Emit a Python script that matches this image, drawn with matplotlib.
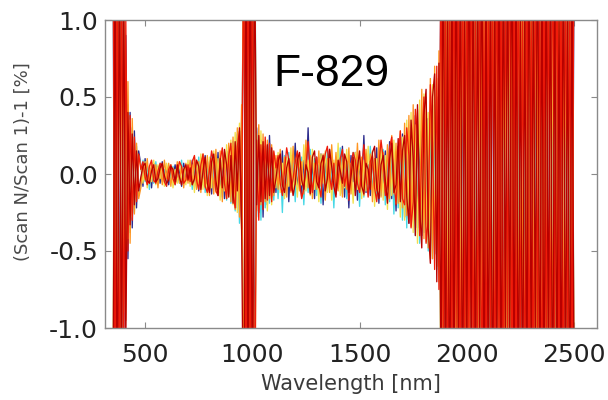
import numpy as np
import matplotlib
matplotlib.use("Agg")
import matplotlib.pyplot as plt

# Wavelength grid (nm), 10 nm step
wavelength = list(range(350, 2501, 10))

# Relative change (Scan N / Scan 1) - 1 in percent, per scan
scan_a = [1.6, -1.9, 2.0, -1.4, 1.3, -1.1, 0.9,
          -0.55, 0.40, -0.35, 0.28, -0.22, 0.15,
          0.06, -0.08, 0.10, -0.05, 0.04, -0.09, 0.07, -0.03, 0.05, -0.06, 0.08, -0.04, 0.03, -0.07, 0.05, -0.02, 0.06, -0.05, 0.04, -0.08, 0.07, -0.03, 0.05,
          -0.06, 0.09, -0.08, 0.05, -0.11, 0.10, -0.07, 0.12, -0.09, 0.08, -0.13, 0.11, -0.10, 0.14, -0.12, 0.09, -0.16, 0.15, -0.13, 0.18, -0.17, 0.20, -0.22, 0.25, -0.30,
          1.8, -2.0, 1.9, -1.7, 2.0, -1.5,
          0.30, -0.25, 0.22, -0.28, 0.18, -0.20, 0.25, -0.15, 0.12,
          -0.12, 0.10, -0.05, 0.15, -0.14, 0.08, -0.18, 0.12, -0.06, 0.20,
          -0.10, 0.05, -0.15, 0.09, -0.08, 0.30, -0.12, 0.07, -0.16, 0.11,
          -0.04, 0.13, -0.20, 0.08, -0.09, 0.16, -0.11, 0.06, -0.13, 0.10,
          -0.07, 0.18, -0.15, 0.09, -0.22, 0.12, -0.05, 0.14, -0.17, 0.08,
          -0.10, 0.25, -0.12, 0.06, -0.14, 0.11, -0.09, 0.17, -0.19, 0.10,
          -0.06, 0.15, -0.13, 0.21, -0.16, 0.12, -0.24, 0.18, -0.11, 0.26,
          -0.28, 0.25, -0.32, 0.30, -0.22, 0.38, -0.35, 0.28, -0.40, 0.42, -0.33, 0.36, -0.48, 0.45, -0.52, 0.50, -0.60,
          1.5, -1.8, 1.2, -2.0, 1.7, -1.3, 1.9, -1.6, 2.0, -1.4,
          1.1, -1.9, 1.8, -1.2, 1.6, -2.0, 1.4, -1.7, 1.9, -1.5,
          2.0, -1.1, 1.3, -1.8, 1.7, -1.6, 1.5, -2.0, 1.2, -1.4,
          1.9, -1.7, 1.6, -1.3, 2.0, -1.9, 1.1, -1.5, 1.8, -1.2,
          1.4, -2.0, 1.7, -1.6, 1.3, -1.8, 1.9, -1.1, 1.5, -1.7,
          2.0, -1.4, 1.2, -1.9, 1.6, -1.3, 1.8, -2.0, 1.1, -1.5,
          1.7, -1.6, 1.4]

scan_b = [-1.7, 1.9, -1.5, 1.8, -1.3, 1.0, -0.7,
          0.45, -0.38, 0.30, -0.25, 0.18, -0.14,
          -0.07, 0.09, -0.05, 0.06, -0.10, 0.04, -0.06, 0.08, -0.04, 0.07, -0.05, 0.03, -0.08, 0.06, -0.03, 0.05, -0.07, 0.04, -0.06, 0.09, -0.05, 0.06, -0.04,
          0.07, -0.10, 0.06, -0.09, 0.11, -0.08, 0.10, -0.12, 0.07, -0.11, 0.13, -0.09, 0.12, -0.14, 0.10, -0.15, 0.13, -0.17, 0.16, -0.19, 0.21, -0.24, 0.26, -0.32, 0.35,
          -1.9, 1.7, -2.0, 1.8, -1.6, 1.9,
          -0.28, 0.24, -0.30, 0.20, -0.22, 0.18, -0.19, 0.15, -0.17,
          0.10, -0.16, 0.08, -0.25, 0.12, -0.09, 0.14, -0.11, 0.07, -0.18,
          0.13, -0.06, 0.11, -0.20, 0.09, -0.12, 0.16, -0.08, 0.10, -0.14,
          0.06, -0.19, 0.12, -0.07, 0.15, -0.10, 0.08, -0.22, 0.11, -0.09,
          0.17, -0.13, 0.07, -0.16, 0.12, -0.08, 0.14, -0.11, 0.09, -0.21,
          0.10, -0.15, 0.13, -0.09, 0.18, -0.12, 0.07, -0.17, 0.11, -0.14,
          0.16, -0.20, 0.09, -0.18, 0.14, -0.26, 0.12, -0.22, 0.19, -0.30,
          0.22, -0.35, 0.28, -0.30, 0.25, -0.40, 0.32, -0.45, 0.30, -0.38, 0.35, -0.50, 0.40, -0.55, 0.38, -0.62, 0.50,
          -1.6, 1.4, -1.9, 1.7, -1.2, 2.0, -1.5, 1.3, -1.8, 1.6,
          -2.0, 1.2, -1.4, 1.9, -1.7, 1.5, -1.1, 1.8, -1.6, 2.0,
          -1.3, 1.7, -1.9, 1.4, -1.5, 1.1, -2.0, 1.6, -1.8, 1.3,
          -1.2, 1.9, -1.4, 1.7, -1.6, 2.0, -1.1, 1.5, -1.9, 1.8,
          -1.7, 1.3, -1.5, 2.0, -1.2, 1.6, -1.8, 1.4, -2.0, 1.1,
          -1.3, 1.9, -1.6, 1.2, -1.7, 1.8, -1.4, 1.5, -1.9, 1.6,
          -1.1, 2.0, -1.5]

scan_c = [1.9, -1.5, 1.7, -2.0, 1.1, -0.9, 0.6,
          -0.42, 0.35, -0.28, 0.22, -0.17, 0.12,
          0.05, -0.06, 0.08, -0.09, 0.04, -0.05, 0.09, -0.07, 0.06, -0.03, 0.05, -0.08, 0.07, -0.04, 0.06, -0.09, 0.03, -0.06, 0.08, -0.05, 0.04, -0.07, 0.09,
          -0.08, 0.06, -0.12, 0.09, -0.07, 0.13, -0.10, 0.08, -0.14, 0.11, -0.09, 0.15, -0.12, 0.10, -0.17, 0.13, -0.11, 0.19, -0.15, 0.22, -0.20, 0.27, -0.25, 0.33, -0.40,
          2.0, -1.6, 1.8, -1.9, 1.5, -2.0,
          0.26, -0.22, 0.28, -0.18, 0.21, -0.24, 0.16, -0.20, 0.14,
          -0.09, 0.14, -0.12, 0.07, -0.16, 0.11, -0.08, 0.17, -0.13, 0.06,
          -0.15, 0.12, -0.07, 0.19, -0.11, 0.09, -0.14, 0.16, -0.10, 0.08,
          -0.18, 0.13, -0.06, 0.15, -0.12, 0.10, -0.17, 0.09, -0.08, 0.20,
          -0.14, 0.11, -0.09, 0.16, -0.13, 0.07, -0.19, 0.14, -0.10, 0.12,
          -0.16, 0.09, -0.11, 0.18, -0.08, 0.15, -0.21, 0.10, -0.13, 0.19,
          -0.17, 0.12, -0.23, 0.16, -0.14, 0.22, -0.19, 0.15, -0.28, 0.24,
          -0.30, 0.35, -0.25, 0.40, -0.38, 0.32, -0.45, 0.48, -0.36, 0.52, -0.44, 0.40, -0.55, 0.58, -0.50, 0.62, -0.70,
          1.3, -1.7, 1.9, -1.4, 1.6, -1.1, 2.0, -1.8, 1.5, -1.2,
          1.7, -2.0, 1.1, -1.6, 1.8, -1.3, 1.4, -1.9, 1.2, -1.5,
          1.6, -1.8, 2.0, -1.1, 1.9, -1.4, 1.3, -1.7, 1.5, -2.0,
          1.2, -1.6, 1.8, -1.9, 1.1, -1.3, 1.7, -1.2, 2.0, -1.8,
          1.5, -1.4, 1.9, -1.1, 1.6, -2.0, 1.3, -1.7, 1.4, -1.6,
          1.8, -1.2, 1.1, -1.5, 2.0, -1.9, 1.7, -1.3, 1.2, -1.8,
          1.5, -1.4, 1.9]

scan_d = [-1.5, 2.0, -1.8, 1.6, -1.4, 1.2, -0.95,
          0.60, -0.45, 0.36, -0.26, 0.20, -0.16,
          -0.09, 0.07, -0.04, 0.10, -0.06, 0.08, -0.05, 0.06, -0.09, 0.05, -0.07, 0.09, -0.03, 0.07, -0.08, 0.04, -0.05, 0.08, -0.06, 0.05, -0.09, 0.07, -0.06,
          0.09, -0.07, 0.11, -0.10, 0.08, -0.12, 0.13, -0.09, 0.12, -0.14, 0.10, -0.13, 0.16, -0.11, 0.15, -0.18, 0.14, -0.16, 0.20, -0.18, 0.24, -0.23, 0.30, -0.28, 0.45,
          -1.8, 2.0, -1.5, 1.9, -2.0, 1.7,
          -0.24, 0.32, -0.20, 0.26, -0.18, 0.22, -0.16, 0.19, -0.14,
          0.12, -0.10, 0.16, -0.08, 0.11, -0.15, 0.09, -0.12, 0.18, -0.07,
          0.14, -0.11, 0.08, -0.13, 0.22, -0.09, 0.12, -0.16, 0.07, -0.10,
          0.15, -0.08, 0.13, -0.17, 0.10, -0.12, 0.19, -0.06, 0.14, -0.11,
          0.09, -0.15, 0.12, -0.10, 0.17, -0.13, 0.08, -0.09, 0.20, -0.12,
          0.11, -0.14, 0.16, -0.07, 0.13, -0.18, 0.10, -0.11, 0.22, -0.15,
          0.14, -0.12, 0.19, -0.16, 0.25, -0.13, 0.20, -0.19, 0.28, -0.22,
          0.33, -0.27, 0.38, -0.34, 0.45, -0.30, 0.42, -0.40, 0.55, -0.42, 0.50, -0.48, 0.62, -0.55, 0.70, -0.60, 0.80,
          -1.9, 1.5, -1.3, 1.8, -1.6, 2.0, -1.2, 1.4, -1.7, 1.1,
          -1.5, 1.9, -2.0, 1.3, -1.1, 1.7, -1.8, 1.6, -1.4, 1.2,
          -1.7, 2.0, -1.3, 1.5, -1.9, 1.8, -1.2, 1.1, -1.6, 1.4,
          -2.0, 1.7, -1.5, 1.3, -1.8, 1.2, -1.4, 1.9, -1.1, 1.6,
          -1.3, 1.8, -1.7, 1.5, -2.0, 1.1, -1.6, 1.4, -1.2, 1.9,
          -1.8, 1.3, -1.5, 2.0, -1.1, 1.7, -1.9, 1.2, -1.4, 1.6,
          -2.0, 1.5, -1.3]

scan_e = [2.0, -1.7, 1.4, -1.9, 1.6, -1.3, 1.0,
          -0.50, 0.38, -0.30, 0.24, -0.18, 0.13,
          0.03, 0.08, -0.02, -0.07, 0.05, 0.09, -0.04, -0.06, 0.02, 0.07, 0.04, -0.05, -0.08, 0.03, 0.06, -0.03, -0.07, 0.01, 0.08, 0.05, -0.06, -0.04, 0.06,
          -0.05, 0.08, 0.12, -0.04, -0.10, 0.06, 0.13, -0.08, -0.12, 0.03, 0.15, 0.07, -0.11, -0.14, 0.09, 0.17, -0.06, -0.16, 0.12, 0.20, -0.13, -0.22, 0.18, 0.28, -0.36,
          1.7, -1.9, 2.0, -1.6, 1.8, -2.0,
          0.22, -0.30, 0.19, -0.23, 0.24, -0.17, 0.20, -0.18, 0.15,
          0.04, 0.12, -0.06, -0.14, 0.02, 0.17, 0.09, -0.11, -0.03, 0.08,
          0.15, -0.05, -0.16, -0.09, 0.06, 0.21, 0.03, -0.12, 0.01, 0.11,
          -0.07, -0.15, 0.05, 0.13, 0.18, -0.02, -0.10, 0.07, -0.13, -0.04,
          0.10, 0.16, -0.08, 0.02, -0.17, 0.06, 0.14, 0.09, -0.06, -0.12,
          0.03, 0.19, -0.01, -0.15, 0.08, 0.12, -0.09, -0.18, 0.05, 0.22,
          0.10, -0.14, -0.07, 0.17, 0.24, -0.05, -0.20, 0.08, 0.28, -0.16,
          -0.20, 0.30, 0.12, -0.35, -0.18, 0.42, 0.25, -0.40, 0.15, 0.50, -0.45, -0.30, 0.58, 0.20, -0.62, 0.70, -0.75,
          1.7, -1.4, 1.2, -1.9, 1.5, -1.6, 1.8, -1.1, 1.3, -2.0,
          1.9, -1.5, 1.6, -1.3, 2.0, -1.7, 1.2, -1.4, 1.8, -1.9,
          1.1, -1.6, 1.5, -1.2, 1.7, -2.0, 1.9, -1.3, 1.4, -1.8,
          1.6, -1.1, 2.0, -1.5, 1.3, -1.7, 1.8, -1.4, 1.2, -1.9,
          1.7, -1.6, 1.1, -1.8, 1.9, -1.2, 1.5, -2.0, 1.4, -1.3,
          1.6, -1.7, 2.0, -1.1, 1.8, -1.5, 1.2, -1.9, 1.7, -1.4,
          1.3, -1.6, 1.8]

scan_f = [-1.8, 1.6, -2.0, 1.7, -1.5, 1.4, -1.1,
          0.40, -0.33, 0.26, -0.20, 0.15, -0.11,
          -0.02, 0.05, 0.07, -0.04, -0.06, 0.02, 0.06, -0.05, -0.03, 0.04, 0.07, -0.01, -0.06, -0.04, 0.05, 0.03, -0.05, 0.06, -0.02, -0.07, 0.03, 0.06, -0.04,
          0.04, -0.07, -0.03, 0.09, 0.05, -0.10, 0.02, 0.11, -0.06, -0.12, 0.08, 0.13, -0.04, -0.14, 0.10, -0.09, 0.16, 0.06, -0.15, 0.12, -0.19, 0.21, -0.11, 0.30, -0.34,
          -2.0, 1.8, -1.7, 2.0, -1.9, 1.6,
          -0.20, 0.25, -0.18, 0.21, -0.16, 0.19, -0.14, 0.17, -0.12,
          -0.03, 0.08, 0.13, -0.07, -0.12, 0.04, 0.10, -0.02, -0.14, -0.06,
          0.09, 0.14, -0.04, -0.10, 0.06, 0.01, -0.13, 0.11, 0.15, -0.05,
          -0.09, 0.07, 0.12, -0.11, -0.03, 0.16, 0.05, -0.08, -0.15, 0.09,
          0.02, -0.06, 0.13, 0.08, -0.12, -0.02, 0.11, -0.14, 0.04, 0.15,
          -0.08, -0.13, 0.07, 0.03, -0.10, 0.14, 0.18, -0.09, -0.16, 0.06,
          0.12, -0.04, -0.19, 0.10, 0.20, -0.12, -0.07, 0.23, -0.18, 0.15,
          0.25, -0.15, -0.32, 0.35, 0.10, -0.40, 0.45, -0.22, -0.48, 0.38, 0.55, -0.35, -0.58, 0.50, 0.65, -0.70, 0.72,
          -1.4, 1.9, -1.7, 1.3, -2.0, 1.5, -1.6, 1.8, -1.2, 1.7,
          -1.9, 1.1, -1.5, 2.0, -1.3, 1.6, -1.8, 1.4, -1.1, 1.9,
          -1.7, 1.2, -1.6, 1.5, -2.0, 1.3, -1.4, 1.8, -1.9, 1.7,
          -1.1, 1.6, -1.3, 2.0, -1.5, 1.4, -1.8, 1.1, -1.7, 1.2,
          -1.6, 1.9, -1.4, 1.3, -1.2, 2.0, -1.9, 1.5, -1.8, 1.7,
          -1.3, 1.6, -2.0, 1.4, -1.5, 1.1, -1.7, 1.8, -1.6, 1.2,
          -1.9, 1.3, -1.4]

scans = [scan_a, scan_b, scan_c, scan_d, scan_e, scan_f]
scan_colors = ["#2b2a8c", "#46d8e6", "#f2e04a", "#ff9420", "#f01c0a", "#b80000"]
for s in scans:
    assert len(s) == len(wavelength), len(s)

fig = plt.figure(figsize=(6.08, 4.0), dpi=100)
ax = fig.add_axes([105 / 608, 1 - 328 / 400, (597 - 105) / 608, (328 - 20) / 400])

for s, c in zip(scans, scan_colors):
    ax.plot(wavelength, s, color=c, lw=0.95)

ax.set_xlim(313, 2607)
ax.set_ylim(-1.0, 1.0)
ax.set_xticks([500, 1000, 1500, 2000, 2500])
ax.set_yticks([-1.0, -0.5, 0.0, 0.5, 1.0])
ax.set_yticklabels(["-1.0", "-0.5", "0.0", "0.5", "1.0"])

for sp in ax.spines.values():
    sp.set_color("#8a8a8a")
    sp.set_linewidth(1.0)

ax.tick_params(axis="both", direction="in", length=4, width=0.8, color="#8a8a8a",
               top=True, right=True, labelsize=18, labelcolor="#222222")
ax.tick_params(axis="x", pad=11)
ax.tick_params(axis="y", pad=5)
for lab in ax.get_xticklabels() + ax.get_yticklabels():
    lab.set_family("DejaVu Sans")

ax.set_xlabel("Wavelength [nm]", fontsize=15, color="#3a3a3a", family="DejaVu Sans",
              va="center")
ax.set_ylabel("(Scan N/Scan 1)-1 [%]", fontsize=13, color="#4a4a4a", family="DejaVu Sans",
              va="center")
ax.xaxis.set_label_coords(0.5, -0.182)
ax.yaxis.set_label_coords(-0.168, 0.54)

ax.text(1371, 0.645, "F-829", fontsize=32, family="Liberation Sans", color="black",
        ha="center", va="center")

fig.savefig("out.png", dpi=100)
